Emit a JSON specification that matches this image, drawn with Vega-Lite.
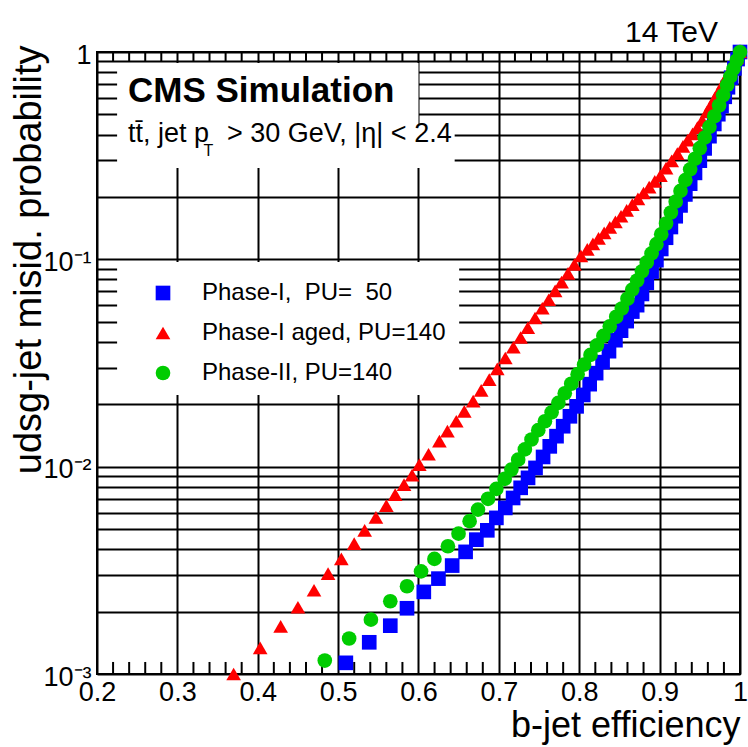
{
  "$schema": "https://vega.github.io/schema/vega-lite/v6.json",
  "width": 643,
  "height": 622,
  "autosize": {"type": "none"},
  "padding": {"left": 97, "top": 52, "right": 8, "bottom": 73},
  "background": "white",
  "config": {
    "view": {"stroke": "black", "strokeWidth": 2},
    "font": "Liberation Sans"
  },
  "datasets": {
    "curves": [
      {"series": "P1", "eff": 0.5096, "misid": 0.001132},
      {"series": "P1", "eff": 0.5387, "misid": 0.001422},
      {"series": "P1", "eff": 0.5649, "misid": 0.00171},
      {"series": "P1", "eff": 0.5857, "misid": 0.002075},
      {"series": "P1", "eff": 0.6066, "misid": 0.002489},
      {"series": "P1", "eff": 0.6248, "misid": 0.002884},
      {"series": "P1", "eff": 0.6419, "misid": 0.003334},
      {"series": "P1", "eff": 0.6586, "misid": 0.003882},
      {"series": "P1", "eff": 0.672, "misid": 0.004446},
      {"series": "P1", "eff": 0.6856, "misid": 0.004932},
      {"series": "P1", "eff": 0.6969, "misid": 0.005662},
      {"series": "P1", "eff": 0.708, "misid": 0.006324},
      {"series": "P1", "eff": 0.7177, "misid": 0.007063},
      {"series": "P1", "eff": 0.7271, "misid": 0.007907},
      {"series": "P1", "eff": 0.7363, "misid": 0.008831},
      {"series": "P1", "eff": 0.7456, "misid": 0.009863},
      {"series": "P1", "eff": 0.755, "misid": 0.01114},
      {"series": "P1", "eff": 0.7633, "misid": 0.01253},
      {"series": "P1", "eff": 0.7717, "misid": 0.01403},
      {"series": "P1", "eff": 0.78, "misid": 0.01567},
      {"series": "P1", "eff": 0.7884, "misid": 0.0175},
      {"series": "P1", "eff": 0.7967, "misid": 0.01954},
      {"series": "P1", "eff": 0.805, "misid": 0.02218},
      {"series": "P1", "eff": 0.813, "misid": 0.025},
      {"series": "P1", "eff": 0.821, "misid": 0.02825},
      {"series": "P1", "eff": 0.829, "misid": 0.03192},
      {"series": "P1", "eff": 0.837, "misid": 0.03606},
      {"series": "P1", "eff": 0.845, "misid": 0.04074},
      {"series": "P1", "eff": 0.852, "misid": 0.04529},
      {"series": "P1", "eff": 0.859, "misid": 0.05035},
      {"series": "P1", "eff": 0.866, "misid": 0.05598},
      {"series": "P1", "eff": 0.872, "misid": 0.06012},
      {"series": "P1", "eff": 0.878, "misid": 0.06808},
      {"series": "P1", "eff": 0.884, "misid": 0.07709},
      {"series": "P1", "eff": 0.89, "misid": 0.0873},
      {"series": "P1", "eff": 0.896, "misid": 0.09908},
      {"series": "P1", "eff": 0.902, "misid": 0.1122},
      {"series": "P1", "eff": 0.908, "misid": 0.1271},
      {"series": "P1", "eff": 0.914, "misid": 0.1432},
      {"series": "P1", "eff": 0.92, "misid": 0.1614},
      {"series": "P1", "eff": 0.926, "misid": 0.182},
      {"series": "P1", "eff": 0.932, "misid": 0.2056},
      {"series": "P1", "eff": 0.938, "misid": 0.2317},
      {"series": "P1", "eff": 0.944, "misid": 0.2612},
      {"series": "P1", "eff": 0.95, "misid": 0.2992},
      {"series": "P1", "eff": 0.956, "misid": 0.3428},
      {"series": "P1", "eff": 0.962, "misid": 0.3926},
      {"series": "P1", "eff": 0.968, "misid": 0.4498},
      {"series": "P1", "eff": 0.973, "misid": 0.5012},
      {"series": "P1", "eff": 0.977, "misid": 0.5483},
      {"series": "P1", "eff": 0.981, "misid": 0.6081},
      {"series": "P1", "eff": 0.985, "misid": 0.6761},
      {"series": "P1", "eff": 0.989, "misid": 0.7516},
      {"series": "P1", "eff": 0.993, "misid": 0.8337},
      {"series": "P1", "eff": 0.997, "misid": 0.9247},
      {"series": "P1", "eff": 1.0, "misid": 1.0},
      {"series": "P1aged", "eff": 0.37, "misid": 0.001},
      {"series": "P1aged", "eff": 0.403, "misid": 0.001337},
      {"series": "P1aged", "eff": 0.4285, "misid": 0.001698},
      {"series": "P1aged", "eff": 0.45, "misid": 0.002099},
      {"series": "P1aged", "eff": 0.47, "misid": 0.002535},
      {"series": "P1aged", "eff": 0.4875, "misid": 0.003048},
      {"series": "P1aged", "eff": 0.504, "misid": 0.003589},
      {"series": "P1aged", "eff": 0.52, "misid": 0.004256},
      {"series": "P1aged", "eff": 0.533, "misid": 0.00493},
      {"series": "P1aged", "eff": 0.547, "misid": 0.0057},
      {"series": "P1aged", "eff": 0.56, "misid": 0.006486},
      {"series": "P1aged", "eff": 0.571, "misid": 0.00733},
      {"series": "P1aged", "eff": 0.582, "misid": 0.0082},
      {"series": "P1aged", "eff": 0.592, "misid": 0.0091},
      {"series": "P1aged", "eff": 0.601, "misid": 0.010233},
      {"series": "P1aged", "eff": 0.6125, "misid": 0.01148},
      {"series": "P1aged", "eff": 0.626, "misid": 0.01327},
      {"series": "P1aged", "eff": 0.636, "misid": 0.01483},
      {"series": "P1aged", "eff": 0.647, "misid": 0.01656},
      {"series": "P1aged", "eff": 0.657, "misid": 0.01849},
      {"series": "P1aged", "eff": 0.668, "misid": 0.0207},
      {"series": "P1aged", "eff": 0.678, "misid": 0.02333},
      {"series": "P1aged", "eff": 0.688, "misid": 0.0263},
      {"series": "P1aged", "eff": 0.698, "misid": 0.02965},
      {"series": "P1aged", "eff": 0.708, "misid": 0.03342},
      {"series": "P1aged", "eff": 0.718, "misid": 0.03767},
      {"series": "P1aged", "eff": 0.727, "misid": 0.04198},
      {"series": "P1aged", "eff": 0.736, "misid": 0.04677},
      {"series": "P1aged", "eff": 0.745, "misid": 0.05212},
      {"series": "P1aged", "eff": 0.754, "misid": 0.05808},
      {"series": "P1aged", "eff": 0.762, "misid": 0.06383},
      {"series": "P1aged", "eff": 0.77, "misid": 0.07047},
      {"series": "P1aged", "eff": 0.778, "misid": 0.07762},
      {"series": "P1aged", "eff": 0.786, "misid": 0.08551},
      {"series": "P1aged", "eff": 0.794, "misid": 0.09441},
      {"series": "P1aged", "eff": 0.802, "misid": 0.104},
      {"series": "P1aged", "eff": 0.81, "misid": 0.1117},
      {"series": "P1aged", "eff": 0.817, "misid": 0.1186},
      {"series": "P1aged", "eff": 0.824, "misid": 0.1262},
      {"series": "P1aged", "eff": 0.831, "misid": 0.1343},
      {"series": "P1aged", "eff": 0.838, "misid": 0.1426},
      {"series": "P1aged", "eff": 0.845, "misid": 0.1517},
      {"series": "P1aged", "eff": 0.852, "misid": 0.1614},
      {"series": "P1aged", "eff": 0.859, "misid": 0.1722},
      {"series": "P1aged", "eff": 0.866, "misid": 0.1837},
      {"series": "P1aged", "eff": 0.873, "misid": 0.1959},
      {"series": "P1aged", "eff": 0.88, "misid": 0.2089},
      {"series": "P1aged", "eff": 0.887, "misid": 0.2228},
      {"series": "P1aged", "eff": 0.894, "misid": 0.2377},
      {"series": "P1aged", "eff": 0.901, "misid": 0.2535},
      {"series": "P1aged", "eff": 0.908, "misid": 0.2754},
      {"series": "P1aged", "eff": 0.915, "misid": 0.2985},
      {"series": "P1aged", "eff": 0.922, "misid": 0.3236},
      {"series": "P1aged", "eff": 0.929, "misid": 0.3508},
      {"series": "P1aged", "eff": 0.935, "misid": 0.3758},
      {"series": "P1aged", "eff": 0.941, "misid": 0.4027},
      {"series": "P1aged", "eff": 0.947, "misid": 0.4315},
      {"series": "P1aged", "eff": 0.953, "misid": 0.4677},
      {"series": "P1aged", "eff": 0.959, "misid": 0.514},
      {"series": "P1aged", "eff": 0.964, "misid": 0.5559},
      {"series": "P1aged", "eff": 0.969, "misid": 0.6012},
      {"series": "P1aged", "eff": 0.974, "misid": 0.6501},
      {"series": "P1aged", "eff": 0.979, "misid": 0.7063},
      {"series": "P1aged", "eff": 0.984, "misid": 0.7674},
      {"series": "P1aged", "eff": 0.988, "misid": 0.8204},
      {"series": "P1aged", "eff": 0.992, "misid": 0.875},
      {"series": "P1aged", "eff": 0.996, "misid": 0.9354},
      {"series": "P1aged", "eff": 1.0, "misid": 1.0},
      {"series": "P2", "eff": 0.4834, "misid": 0.001161},
      {"series": "P2", "eff": 0.5137, "misid": 0.001483},
      {"series": "P2", "eff": 0.5408, "misid": 0.001828},
      {"series": "P2", "eff": 0.5649, "misid": 0.002244},
      {"series": "P2", "eff": 0.5857, "misid": 0.002649},
      {"series": "P2", "eff": 0.6032, "misid": 0.003126},
      {"series": "P2", "eff": 0.6198, "misid": 0.003589},
      {"series": "P2", "eff": 0.6366, "misid": 0.00413},
      {"series": "P2", "eff": 0.6498, "misid": 0.004753},
      {"series": "P2", "eff": 0.6636, "misid": 0.005458},
      {"series": "P2", "eff": 0.674, "misid": 0.006209},
      {"series": "P2", "eff": 0.6865, "misid": 0.006998},
      {"series": "P2", "eff": 0.6969, "misid": 0.007816},
      {"series": "P2", "eff": 0.7072, "misid": 0.00873},
      {"series": "P2", "eff": 0.7156, "misid": 0.009683},
      {"series": "P2", "eff": 0.724, "misid": 0.01081},
      {"series": "P2", "eff": 0.7323, "misid": 0.01211},
      {"series": "P2", "eff": 0.7406, "misid": 0.01352},
      {"series": "P2", "eff": 0.749, "misid": 0.015},
      {"series": "P2", "eff": 0.7573, "misid": 0.01656},
      {"series": "P2", "eff": 0.7656, "misid": 0.01828},
      {"series": "P2", "eff": 0.774, "misid": 0.02032},
      {"series": "P2", "eff": 0.782, "misid": 0.02259},
      {"series": "P2", "eff": 0.79, "misid": 0.02512},
      {"series": "P2", "eff": 0.798, "misid": 0.02793},
      {"series": "P2", "eff": 0.806, "misid": 0.03105},
      {"series": "P2", "eff": 0.814, "misid": 0.03459},
      {"series": "P2", "eff": 0.822, "misid": 0.03846},
      {"series": "P2", "eff": 0.83, "misid": 0.04276},
      {"series": "P2", "eff": 0.838, "misid": 0.04753},
      {"series": "P2", "eff": 0.846, "misid": 0.05284},
      {"series": "P2", "eff": 0.853, "misid": 0.05794},
      {"series": "P2", "eff": 0.86, "misid": 0.06457},
      {"series": "P2", "eff": 0.866, "misid": 0.07145},
      {"series": "P2", "eff": 0.872, "misid": 0.07907},
      {"series": "P2", "eff": 0.878, "misid": 0.0875},
      {"series": "P2", "eff": 0.884, "misid": 0.09661},
      {"series": "P2", "eff": 0.89, "misid": 0.1069},
      {"series": "P2", "eff": 0.896, "misid": 0.1183},
      {"series": "P2", "eff": 0.902, "misid": 0.1321},
      {"series": "P2", "eff": 0.908, "misid": 0.1489},
      {"series": "P2", "eff": 0.914, "misid": 0.1683},
      {"series": "P2", "eff": 0.92, "misid": 0.1897},
      {"series": "P2", "eff": 0.926, "misid": 0.2138},
      {"series": "P2", "eff": 0.932, "misid": 0.241},
      {"series": "P2", "eff": 0.938, "misid": 0.2716},
      {"series": "P2", "eff": 0.944, "misid": 0.3055},
      {"series": "P2", "eff": 0.95, "misid": 0.3436},
      {"series": "P2", "eff": 0.956, "misid": 0.3864},
      {"series": "P2", "eff": 0.962, "misid": 0.4355},
      {"series": "P2", "eff": 0.968, "misid": 0.4898},
      {"series": "P2", "eff": 0.974, "misid": 0.5521},
      {"series": "P2", "eff": 0.979, "misid": 0.618},
      {"series": "P2", "eff": 0.984, "misid": 0.6934},
      {"series": "P2", "eff": 0.988, "misid": 0.7603},
      {"series": "P2", "eff": 0.992, "misid": 0.8318},
      {"series": "P2", "eff": 0.996, "misid": 0.912},
      {"series": "P2", "eff": 1.0, "misid": 1.0}
    ],
    "minorTicks": [
      {"tick": 0.22}, {"tick": 0.24}, {"tick": 0.26}, {"tick": 0.28},
      {"tick": 0.32}, {"tick": 0.34}, {"tick": 0.36}, {"tick": 0.38},
      {"tick": 0.42}, {"tick": 0.44}, {"tick": 0.46}, {"tick": 0.48},
      {"tick": 0.52}, {"tick": 0.54}, {"tick": 0.56}, {"tick": 0.58},
      {"tick": 0.62}, {"tick": 0.64}, {"tick": 0.66}, {"tick": 0.68},
      {"tick": 0.72}, {"tick": 0.74}, {"tick": 0.76}, {"tick": 0.78},
      {"tick": 0.82}, {"tick": 0.84}, {"tick": 0.86}, {"tick": 0.88},
      {"tick": 0.92}, {"tick": 0.94}, {"tick": 0.96}, {"tick": 0.98}
    ]
  },
  "layer": [
    {
      "data": {"name": "minorTicks"},
      "mark": {"type": "rule", "color": "black", "strokeWidth": 2},
      "encoding": {
        "x": {"field": "tick", "type": "quantitative", "title": "b-jet efficiency"},
        "y": {"datum": 0.001},
        "y2": {"datum": 0.001143}
      }
    },
    {
      "data": {"name": "minorTicks"},
      "mark": {"type": "rule", "color": "black", "strokeWidth": 2},
      "encoding": {
        "x": {"field": "tick", "type": "quantitative", "title": "b-jet efficiency"},
        "y": {"datum": 1},
        "y2": {"datum": 0.9}
      }
    },
    {
      "data": {"values": [{}]},
      "mark": {"type": "rect", "fill": "white", "stroke": null},
      "encoding": {
        "x": {"datum": 0.225}, "x2": {"datum": 0.6},
        "y": {"datum": 0.885}, "y2": {"datum": 0.4495}
      }
    },
    {
      "data": {"values": [{}]},
      "mark": {"type": "rect", "fill": "white", "stroke": null},
      "encoding": {
        "x": {"datum": 0.225}, "x2": {"datum": 0.645},
        "y": {"datum": 0.4495}, "y2": {"datum": 0.2758}
      }
    },
    {
      "data": {"values": [{}]},
      "mark": {"type": "rect", "fill": "white", "stroke": null},
      "encoding": {
        "x": {"datum": 0.225}, "x2": {"datum": 0.6506},
        "y": {"datum": 0.0971}, "y2": {"datum": 0.02216}
      }
    },
    {
      "data": {"name": "curves"},
      "mark": {"type": "point", "filled": true, "opacity": 1, "size": 215, "strokeWidth": 0},
      "encoding": {
        "x": {
          "field": "eff", "type": "quantitative", "title": "b-jet efficiency",
          "scale": {"domain": [0.2, 1], "nice": false, "zero": false},
          "axis": {
            "values": [0.2, 0.3, 0.4, 0.5, 0.6, 0.7, 0.8, 0.9, 1.0],
            "format": ".1~f",
            "grid": true, "gridColor": "black", "gridWidth": 2, "gridOpacity": 1,
            "domain": false, "ticks": false,
            "labelFont": "Liberation Sans", "labelFontSize": 27, "labelColor": "black",
            "labelPadding": 5, "labelFlush": false, "labelOverlap": false,
            "titleFont": "Liberation Sans", "titleFontSize": 36, "titleFontWeight": "normal",
            "titleColor": "black", "titleAnchor": "end", "titlePadding": 3
          }
        },
        "y": {
          "field": "misid", "type": "quantitative", "title": "udsg-jet misid. probability",
          "scale": {"type": "log", "domain": [0.001, 1], "nice": false},
          "axis": {
            "values": [0.001, 0.002, 0.003, 0.004, 0.005, 0.006, 0.007, 0.008, 0.009,
                       0.01, 0.02, 0.03, 0.04, 0.05, 0.06, 0.07, 0.08, 0.09,
                       0.1, 0.2, 0.3, 0.4, 0.5, 0.6, 0.7, 0.8, 0.9, 1],
            "labelExpr": "datum.value == 1 ? '1' : datum.value == 0.1 ? '10⁻¹' : datum.value == 0.01 ? '10⁻²' : datum.value == 0.001 ? '10⁻³' : ''",
            "grid": true, "gridColor": "black", "gridWidth": 2, "gridOpacity": 1,
            "domain": false, "ticks": false,
            "labelFont": "Liberation Sans", "labelFontSize": 27, "labelColor": "black",
            "labelPadding": 6, "labelOverlap": false, "labelOffset": 3,
            "titleFont": "Liberation Sans", "titleFontSize": 38, "titleFontWeight": "normal",
            "titleColor": "black", "titleAngle": 270, "titleAlign": "right",
            "titleBaseline": "bottom", "titleX": -49, "titleY": -7
          }
        },
        "color": {
          "field": "series", "type": "nominal",
          "scale": {"domain": ["P1", "P1aged", "P2"], "range": ["#0000ff", "#ff0000", "#00cc00"]},
          "legend": {
            "orient": "none", "legendX": 54, "legendY": 229,
            "title": null, "padding": 0,
            "labelExpr": "datum.label == 'P1' ? 'Phase-I,\u00a0 PU=\u00a0 50' : datum.label == 'P1aged' ? 'Phase-I aged, PU=140' : 'Phase-II, PU=140'",
            "labelFont": "Liberation Sans", "labelFontSize": 24, "labelColor": "black",
            "labelOffset": 27, "labelLimit": 400,
            "symbolSize": 215, "symbolStrokeWidth": 0, "symbolOpacity": 1,
            "rowPadding": 16
          }
        },
        "shape": {
          "field": "series", "type": "nominal",
          "scale": {"domain": ["P1", "P1aged", "P2"], "range": ["square", "triangle-up", "circle"]}
        }
      }
    },
    {
      "data": {"values": [{}]},
      "mark": {"type": "text", "text": "CMS Simulation", "align": "left", "baseline": "alphabetic", "font": "Liberation Sans", "fontSize": 35, "fontWeight": "bold", "color": "black"},
      "encoding": {"x": {"datum": 0.2386}, "y": {"datum": 0.574}}
    },
    {
      "data": {"values": [{}]},
      "mark": {"type": "text", "text": "tt̄, jet p", "align": "left", "baseline": "alphabetic", "font": "Liberation Sans", "fontSize": 27, "color": "black"},
      "encoding": {"x": {"datum": 0.2386}, "y": {"datum": 0.368}}
    },
    {
      "data": {"values": [{}]},
      "mark": {"type": "text", "text": "T", "align": "left", "baseline": "alphabetic", "font": "Liberation Sans", "fontSize": 16, "color": "black"},
      "encoding": {"x": {"datum": 0.3325}, "y": {"datum": 0.315}}
    },
    {
      "data": {"values": [{}]},
      "mark": {"type": "text", "text": "> 30 GeV, |η| < 2.4", "align": "left", "baseline": "alphabetic", "font": "Liberation Sans", "fontSize": 27, "color": "black"},
      "encoding": {"x": {"datum": 0.3617}, "y": {"datum": 0.368}}
    },
    {
      "data": {"values": [{}]},
      "mark": {"type": "text", "text": "14 TeV", "align": "right", "baseline": "alphabetic", "font": "Liberation Sans", "fontSize": 30, "color": "black"},
      "encoding": {"x": {"datum": 0.9726}, "y": {"datum": 1.117}}
    }
  ]
}
